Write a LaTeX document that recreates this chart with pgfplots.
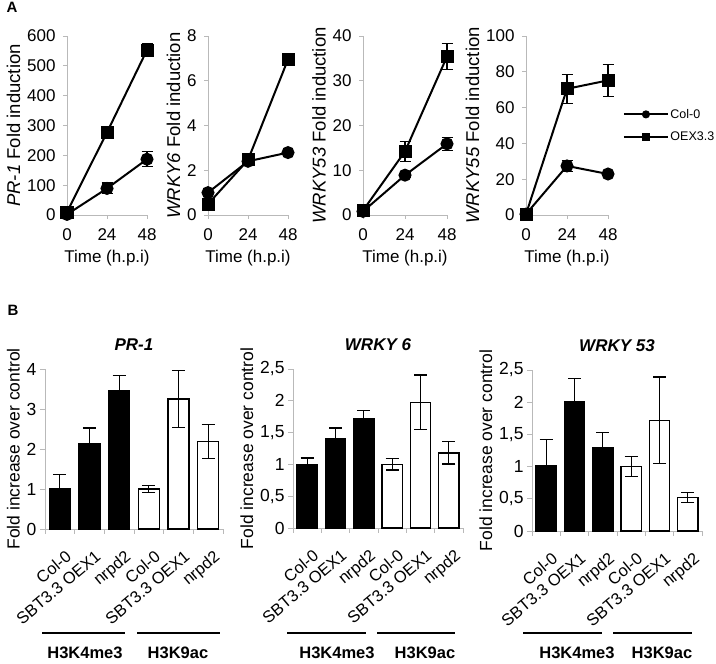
\documentclass[border=0pt]{standalone}
\usepackage{fontspec}
\setmainfont{Liberation Sans}
\usepackage{pgfplots}
\pgfplotsset{compat=1.18}

\pgfplotsset{
  panelA/.style={
    scale only axis, anchor=south west, clip=false,
    height=179bp, xmin=0, xmax=48, ymin=0,
    axis x line*=bottom, axis y line*=left,
    axis line style={gray!55, line width=0.8bp},
    xtick={0,24,48}, tick align=outside, major tick length=4bp,
    tick style={gray!55, line width=0.8bp},
    tick label style={font=\fontsize{17bp}{20bp}\selectfont, black},
    xticklabel style={yshift=-6bp},
    yticklabel style={xshift=-4bp},
    /pgf/number format/assume math mode=true,
    xlabel={Time (h.p.i)},
    xlabel style={font=\fontsize{17bp}{20bp}\selectfont, yshift=-3bp},
    ylabel style={font=\fontsize{18.5bp}{21bp}\selectfont},
    every axis plot/.append style={black, line width=2bp, mark size=5.5bp,
      mark options={solid, fill=black},
      error bars/y dir=both, error bars/y explicit,
      error bars/error bar style={line width=1.2bp, black},
      error bars/error mark options={rotate=90, mark size=5.5bp, line width=1.2bp, black}},
  },
  panelB/.style={
    scale only axis, anchor=south west, clip=false,
    ybar, bar shift=0pt, xmin=-0.5, xmax=5.5, ymin=0,
    axis x line*=bottom, axis y line*=left,
    axis line style={gray!55, line width=0.8bp},
    tick align=outside, major tick length=5bp, minor tick length=5bp,
    tick style={gray!55, line width=0.8bp},
    xtick={0,...,5},
    xticklabels={Col-0,SBT3.3 OEX1,nrpd2,Col-0,SBT3.3 OEX1,nrpd2},
    minor xtick={-0.5,0.5,...,5.5},
    major x tick style={draw=none},
    xticklabel style={xshift=5bp, rotate=40, anchor=north east, inner sep=1bp,
        font=\fontsize{16.5bp}{19bp}\selectfont},
    xticklabel shift=14bp,
    yticklabel style={font=\fontsize{17.5bp}{20bp}\selectfont},
    /pgf/number format/assume math mode=true,
    /pgf/number format/use comma,
    ylabel={Fold increase over control},
    ylabel style={font=\fontsize{17.5bp}{20bp}\selectfont},
    title style={font=\fontsize{17bp}{20bp}\selectfont\bfseries\itshape, yshift=9bp},
    every axis plot/.append style={draw=black, line width=1.4bp,
      error bars/y dir=both, error bars/y explicit,
      error bars/error bar style={line width=1.3bp, black},
      error bars/error mark options={rotate=90, mark size=6.5bp, line width=1.3bp, black}},
  },
}

\begin{document}
\begin{tikzpicture}
\path[use as bounding box] (0,0) rectangle (716bp,664bp);

\node[font=\fontsize{15bp}{18bp}\selectfont\bfseries] at (12bp,657bp) {A};
\node[font=\fontsize{15bp}{18bp}\selectfont\bfseries] at (13bp,354bp) {B};

% ---- panel A ----
\begin{axis}[panelA, at={(67bp,449bp)}, width=80bp, ymax=600,
  ytick={0,100,...,600}, ylabel={\textit{PR-1} Fold induction}]
\addplot[mark=*] table[x=t, y=v, y error=e, row sep=\\] {
t v e\\ 0 2 0\\ 24 89 18\\ 48 187 25\\};
\addplot[mark=square*] table[x=t, y=v, y error=e, row sep=\\] {
t v e\\ 0 10 0\\ 24 277 8\\ 48 553 22\\};
\end{axis}

\begin{axis}[panelA, at={(208bp,449bp)}, width=80bp, ymax=8,
  ytick={0,2,...,8}, ylabel={\textit{WRKY6} Fold induction}]
\addplot[mark=*] table[x=t, y=v, y error=e, row sep=\\] {
t v e\\ 0 1.0 0\\ 24 2.4 0\\ 48 2.79 0\\};
\addplot[mark=square*] table[x=t, y=v, y error=e, row sep=\\] {
t v e\\ 0 0.49 0\\ 24 2.46 0.1\\ 48 6.95 0\\};
\end{axis}

\begin{axis}[panelA, at={(363bp,449bp)}, width=84bp, ymax=40,
  ytick={0,10,...,40}, ylabel={\textit{WRKY53} Fold induction}]
\addplot[mark=*] table[x=t, y=v, y error=e, row sep=\\] {
t v e\\ 0 0.8 0\\ 24 8.9 0.5\\ 48 15.9 1.5\\};
\addplot[mark=square*] table[x=t, y=v, y error=e, row sep=\\] {
t v e\\ 0 1.0 0\\ 24 14.2 2.2\\ 48 35.4 2.9\\};
\end{axis}

\begin{axis}[panelA, at={(526bp,449bp)}, width=82bp, ymax=100,
  ytick={0,20,...,100}, ylabel={\textit{WRKY55} Fold induction},
  legend style={draw=none, fill=none, inner sep=0pt, at={(1.18,0.5)}, anchor=west,
    font=\fontsize{12.5bp}{15bp}\selectfont, row sep=9bp,
    nodes={inner sep=1.5bp}},
  legend cell align=left,
  legend image code/.code={\draw[mark repeat=2, mark phase=2, #1]
    plot coordinates {(0bp,0bp) (22bp,0bp) (44bp,0bp)};}]
\addplot[mark=*, forget plot] table[x=t, y=v, y error=e, row sep=\\] {
t v e\\ 0 0.5 0\\ 24 27.4 3\\ 48 22.9 1\\};
\addplot[mark=square*, forget plot] table[x=t, y=v, y error=e, row sep=\\] {
t v e\\ 0 0.5 0\\ 24 70.5 8.2\\ 48 75.2 8.8\\};
\addlegendimage{black, line width=2bp, mark=*, mark size=3bp}
\addlegendentry{Col-0}
\addlegendimage{black, line width=2bp, mark=square*, mark size=3bp}
\addlegendentry{OEX3.3}
\end{axis}

% ---- panel B ----
\begin{axis}[panelB, at={(45bp,135bp)}, width=178bp, height=160bp,
  bar width=21bp, ymax=4, ytick={0,...,4}, title={PR-1}]
\addplot[fill=black] table[x=c, y=v, y error=e, row sep=\\] {
c v e\\ 0 1.0 0.36\\ 1 2.125 0.40\\ 2 3.46 0.37\\};
\addplot[fill=white] table[x=c, y=v, y error=e, row sep=\\] {
c v e\\ 3 1.0 0.08\\ 4 3.25 0.71\\ 5 2.19 0.42\\};
\end{axis}

\begin{axis}[panelB, at={(293bp,136bp)}, width=170bp, height=159bp,
  bar width=20.5bp, ymax=2.5, ytick={0,0.5,...,2.5}, title={WRKY 6}]
\addplot[fill=black] table[x=c, y=v, y error=e, row sep=\\] {
c v e\\ 0 1.0 0.10\\ 1 1.40 0.17\\ 2 1.72 0.125\\};
\addplot[fill=white] table[x=c, y=v, y error=e, row sep=\\] {
c v e\\ 3 1.0 0.09\\ 4 1.976 0.43\\ 5 1.18 0.175\\};
\end{axis}

\begin{axis}[panelB, at={(532bp,133bp)}, width=170bp, height=161bp,
  bar width=20.5bp, ymax=2.5, ytick={0,0.5,...,2.5}, title={WRKY 53}]
\addplot[fill=black] table[x=c, y=v, y error=e, row sep=\\] {
c v e\\ 0 1.01 0.41\\ 1 2.01 0.36\\ 2 1.30 0.23\\};
\addplot[fill=white] table[x=c, y=v, y error=e, row sep=\\] {
c v e\\ 3 1.0 0.155\\ 4 1.72 0.67\\ 5 0.52 0.077\\};
\end{axis}

% group brackets
\begin{scope}[line width=2bp]
\draw (42bp,31bp) -- (125bp,31bp);  \draw (137bp,31bp) -- (220bp,31bp);
\draw (287bp,31bp) -- (366bp,31bp); \draw (377bp,31bp) -- (455bp,31bp);
\draw (523bp,31bp) -- (602bp,31bp); \draw (613bp,31bp) -- (692bp,31bp);
\end{scope}
\begin{scope}[every node/.style={font=\fontsize{16.5bp}{19bp}\selectfont\bfseries}]
\node at (85bp,11bp) {H3K4me3};  \node at (178bp,11bp) {H3K9ac};
\node at (337bp,11bp) {H3K4me3}; \node at (425bp,11bp) {H3K9ac};
\node at (577bp,11bp) {H3K4me3}; \node at (662bp,11bp) {H3K9ac};
\end{scope}
\end{tikzpicture}
\end{document}
